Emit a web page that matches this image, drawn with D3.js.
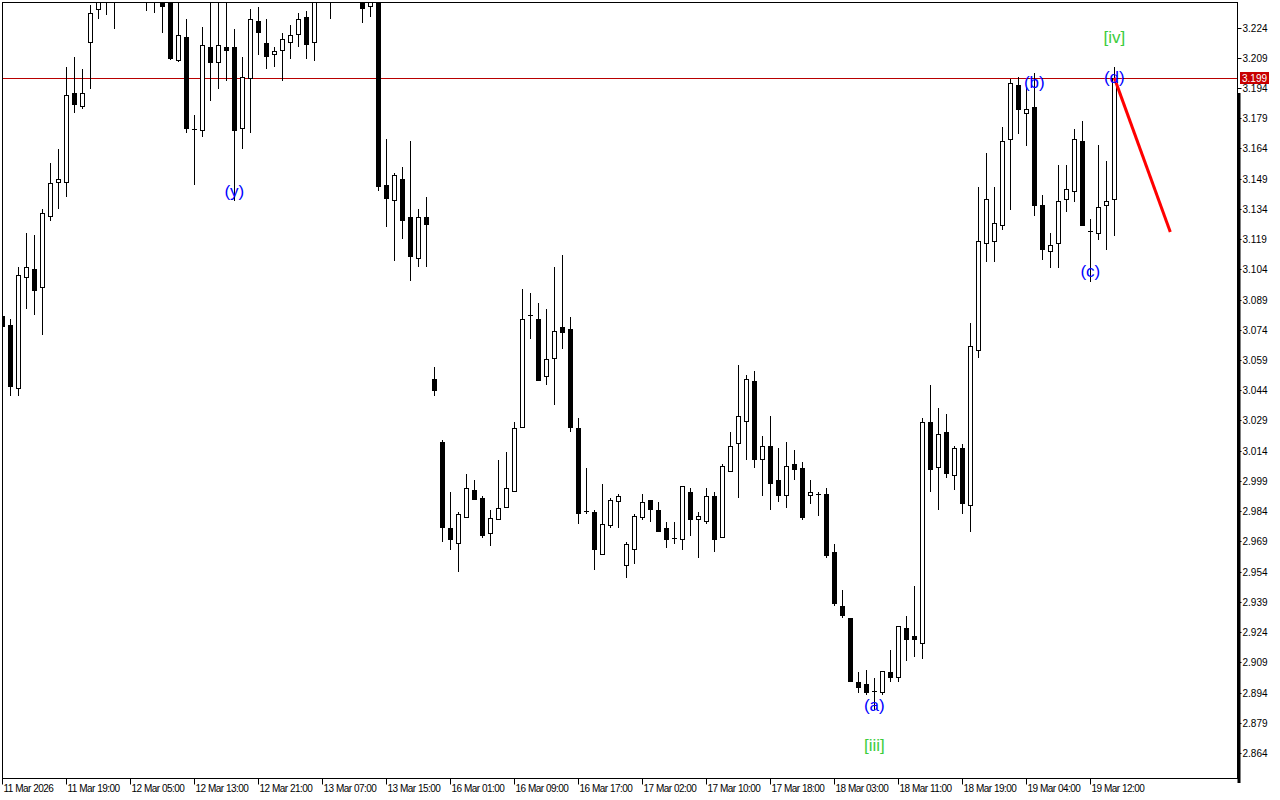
<!DOCTYPE html>
<html lang="en">
<head>
<meta charset="UTF-8">
<title>Candles</title>
<script src="https://cdn.jsdelivr.net/npm/d3@7"></script>
<style>
  body { margin: 0; background: #fff; }
  svg { display: block; }
  .axis text { font: 10px "Liberation Sans", Arial, sans-serif; fill: #000; }
  .axis line { stroke: #000; }
  .xaxis text { letter-spacing: -0.5px; }
  .wave { font: 17px "Liberation Sans", Arial, sans-serif; }
</style>
</head>
<body>
<div id="chart"></div>
<script>
// hourly bars, index 0..139
const opens = [3.081,3.0764,3.0452,3.1002,3.1042,3.0953,3.1305,3.1474,3.1474,3.1915,3.185,3.2168,3.2332,3.240,3.240,3.246,3.249,3.245,3.247,3.243,
  3.246,3.239,3.2079,3.2193,3.1737,3.1732,3.2143,3.2069,3.2143,3.2143,3.1742,3.199,3.2272,3.2163,3.2109,3.2128,3.2168,3.2208,3.2292,3.2168,
  3.240,3.243,3.241,3.245,3.242,3.240,3.2347,3.2395,3.1459,3.1384,3.1489,3.13,3.1097,3.13,3.0497,3.0184,2.9757,2.9683,2.9812,2.9946,
  2.9906,2.9733,2.9802,2.9862,2.9941,3.0259,3.0814,3.0794,3.0511,3.0601,3.0755,3.0745,3.0254,2.9842,2.9837,2.9628,2.9772,2.9891,2.9574,2.9653,
  2.9812,2.9896,2.9846,2.9757,2.9708,2.9703,2.9936,2.9802,2.9792,2.9916,2.9713,3.004,3.0179,3.0288,3.0487,3.0099,3.0164,2.9996,2.9921,3.0075,
  3.0055,2.9921,2.9926,2.9926,2.9638,2.937,2.9311,2.8993,2.8983,2.8949,2.8944,2.9043,2.9018,2.926,2.9221,2.9186,3.0283,3.006,3.0234,3.002,
  3.0154,2.9871,3.064,3.117,3.1181,3.126,3.1687,3.1955,3.1816,3.1846,3.136,3.1131,3.117,3.1389,3.1429,3.1677,3.123,3.1221,3.136,3.1389];
const highs = [3.082,3.0794,3.1052,3.1221,3.1211,3.134,3.1568,3.1637,3.2044,3.2094,3.2034,3.2352,3.244,3.247,3.249,3.252,3.255,3.251,3.250,3.249,
  3.248,3.241,3.240,3.2282,3.1806,3.2242,3.240,3.240,3.240,3.2233,3.2094,3.2332,3.2342,3.2282,3.2143,3.2213,3.2252,3.2312,3.2322,3.243,
  3.246,3.247,3.248,3.250,3.247,3.243,3.242,3.241,3.1687,3.1518,3.1548,3.1677,3.134,3.1399,3.0556,3.0194,2.9936,2.9837,3.0025,2.9996,
  2.9916,2.9847,3.0094,3.0134,3.0284,3.0943,3.0923,3.0873,3.0844,3.1052,3.1111,3.0804,3.0303,3.0055,2.9847,2.9976,2.9906,2.9926,2.9688,2.9827,
  2.9926,2.9896,2.9886,2.9787,2.9787,2.9966,2.9956,2.9837,2.9956,2.9936,3.0075,3.0234,3.0566,3.0516,3.0536,3.0214,3.0313,3.0154,3.0184,3.0144,
  3.0085,2.9996,2.9936,2.9956,2.9678,2.945,2.9311,2.9043,2.9053,2.9013,2.9048,2.9152,2.927,2.9319,2.947,3.0303,3.0467,3.0353,3.0323,3.0164,
  3.0174,3.0774,3.1449,3.1618,3.1449,3.1746,3.1985,3.1994,3.1945,3.2014,3.1409,3.1221,3.1558,3.1558,3.1736,3.1776,3.129,3.1657,3.1578,3.2044];
const lows = [3.074,3.0417,3.0417,3.0849,3.0819,3.072,3.1285,3.1345,3.1404,3.1821,3.184,3.194,3.2287,3.2307,3.2238,3.241,3.243,3.240,3.2327,3.2317,
  3.2218,3.2085,3.2075,3.1722,3.1464,3.1702,3.188,3.194,3.198,3.1384,3.1642,3.1722,3.2109,3.2039,3.2049,3.198,3.2089,3.2148,3.2089,3.2079,
  3.2385,3.2287,3.238,3.239,3.2385,3.2267,3.2297,3.1434,3.1255,3.1086,3.1196,3.0987,3.1057,3.1057,3.0417,2.9693,2.9653,2.9544,2.9812,2.990,
  2.9713,2.9673,2.980,2.986,2.994,3.0259,3.07,3.0491,3.0472,3.0372,3.065,3.0239,2.9782,2.9832,2.9554,2.9628,2.9762,2.9762,2.9514,2.9584,
  2.9802,2.9792,2.9742,2.9663,2.9683,2.9653,2.9723,2.9613,2.9782,2.9643,2.9713,3.004,2.9911,3.0099,3.006,2.9921,2.9852,2.9891,2.9862,3.0001,
  2.9802,2.9881,2.9822,2.9613,2.9375,2.9316,2.8998,2.8944,2.8934,2.8858,2.8934,2.8998,2.8998,2.9102,2.9122,2.9112,2.9941,2.9852,3.001,2.995,
  2.9832,2.974,3.0605,3.1081,3.1081,3.124,3.134,3.1717,3.1657,3.131,3.1091,3.1052,3.1052,3.133,3.1379,3.126,3.0983,3.1191,3.1141,3.1211];
const closes = [3.076,3.0462,3.1012,3.1052,3.0938,3.132,3.1469,3.1489,3.1905,3.186,3.1915,3.2312,3.240,3.244,3.246,3.249,3.245,3.247,3.243,3.246,
  3.2347,3.2089,3.2203,3.1742,3.1737,3.2153,3.2069,3.2153,3.2128,3.1732,3.1994,3.2282,3.2218,3.2099,3.2123,3.2183,3.2203,3.2282,3.2158,3.239,
  3.243,3.241,3.245,3.242,3.240,3.2337,3.2395,3.1454,3.1394,3.1508,3.1285,3.1107,3.13,3.1265,3.0442,2.9762,2.9703,2.9827,2.9956,2.9901,
  2.9723,2.9807,2.9857,2.9956,3.0254,3.0794,3.0814,3.0491,3.0596,3.0735,3.073,3.0259,2.9832,2.9842,2.9653,2.9777,2.9896,2.9916,2.9678,2.9817,
  2.9886,2.9851,2.9742,2.9703,2.9708,2.9966,2.9802,2.9817,2.9916,2.9703,3.0065,3.0164,3.0313,3.0497,3.0099,3.0164,2.9981,2.9921,3.0065,3.005,
  2.9812,2.9936,2.9926,2.9623,2.9385,2.9326,2.8998,2.8968,2.8944,2.8949,2.9048,2.9018,2.927,2.9206,2.9206,3.0283,3.005,3.0224,3.003,3.0154,
  2.9881,3.066,3.118,3.1389,3.127,3.1677,3.1965,3.1836,3.1836,3.136,3.1141,3.1161,3.1379,3.1439,3.1687,3.126,3.123,3.135,3.1379,3.199];

// bottom time labels (every 8 bars)
const timeTickIdx = [0,8,16,24,32,40,48,56,64,72,80,88,96,104,112,120,128,136];
const timeTickText = ["11 Mar 2026","11 Mar 19:00","12 Mar 05:00","12 Mar 13:00","12 Mar 21:00","13 Mar 07:00",
  "13 Mar 15:00","16 Mar 01:00","16 Mar 09:00","16 Mar 17:00","17 Mar 02:00","17 Mar 10:00","17 Mar 18:00",
  "18 Mar 03:00","18 Mar 11:00","18 Mar 19:00","19 Mar 04:00","19 Mar 12:00"];
const priceTicks = d3.range(25).map(k => +(2.864 + k * 0.015).toFixed(3));
const lastPrice = 3.199;

// wave labels
const waveIdx   = [29, 109, 109, 129, 136, 139, 139];
const waveText  = ["(y)", "(a)", "[iii]", "(b)", "(c)", "(d)", "[iv]"];
const wavePrice = [3.1424, 2.8878, 2.8679, 3.1965, 3.1027, 3.1994, 3.2188];
const waveKind  = ["minor", "minor", "major", "minor", "minor", "minor", "major"];

// projection line
const projIdx = [139, 146];
const projPrice = [3.199, 3.1225];

const W = 1280, H = 800;
const plot = { left: 2, top: 2, right: 1237, bottom: 778 };

const svg = d3.select("#chart").append("svg")
  .attr("width", W).attr("height", H);

const x = d3.scaleLinear().domain([0, 139]).range([2.3, 1114.3]);
const y = d3.scaleLinear().domain([2.864, 3.224]).range([753, 27.5]);

svg.append("clipPath").attr("id", "clip")
  .append("rect")
  .attr("x", plot.left).attr("y", plot.top)
  .attr("width", plot.right - plot.left).attr("height", plot.bottom - plot.top);

const g = svg.append("g").attr("clip-path", "url(#clip)");

// current price line
g.append("line")
  .attr("x1", plot.left).attr("x2", plot.right)
  .attr("y1", Math.round(y(lastPrice)) + 0.5).attr("y2", Math.round(y(lastPrice)) + 0.5)
  .attr("stroke", "#b80000").attr("stroke-width", 1);

const bars = d3.range(opens.length).map(i => ({
  i, o: opens[i], h: highs[i], l: lows[i], c: closes[i]
}));

const candle = g.selectAll("g.candle").data(bars).join("g").attr("class", "candle");

candle.append("line")
  .attr("x1", d => Math.round(x(d.i)) + 0.5).attr("x2", d => Math.round(x(d.i)) + 0.5)
  .attr("y1", d => Math.round(y(d.h))).attr("y2", d => Math.round(y(d.l)) + 1)
  .attr("stroke", "#000").attr("stroke-width", 1);

candle.each(function(d) {
  const cx = Math.round(x(d.i));
  const yt = Math.round(y(Math.max(d.o, d.c)));
  const yb = Math.round(y(Math.min(d.o, d.c)));
  const sel = d3.select(this);
  if (yb - yt < 1) {
    sel.append("line")
      .attr("x1", cx - 2).attr("x2", cx + 3)
      .attr("y1", yt + 0.5).attr("y2", yt + 0.5)
      .attr("stroke", "#000");
  } else {
    sel.append("rect")
      .attr("x", cx - 2 + 0.5).attr("y", yt + 0.5)
      .attr("width", 4).attr("height", yb - yt)
      .attr("fill", d.c >= d.o ? "#fff" : "#000")
      .attr("stroke", "#000").attr("stroke-width", 1);
  }
});

// projection
g.append("line")
  .attr("x1", x(projIdx[0])).attr("y1", y(projPrice[0]))
  .attr("x2", x(projIdx[1])).attr("y2", y(projPrice[1]))
  .attr("stroke", "#ff0000").attr("stroke-width", 3);

// wave labels
g.selectAll("text.wave").data(waveIdx).join("text")
  .attr("class", "wave")
  .attr("x", (d, k) => x(d))
  .attr("y", (d, k) => y(wavePrice[k]))
  .attr("text-anchor", "middle")
  .attr("dominant-baseline", "central")
  .attr("fill", (d, k) => waveKind[k] === "major" ? "#3ccc3c" : "#0000ff")
  .text((d, k) => waveText[k]);

// frame
svg.append("rect")
  .attr("x", plot.left + 0.5).attr("y", plot.top + 0.5)
  .attr("width", plot.right - plot.left).attr("height", plot.bottom - plot.top)
  .attr("fill", "none").attr("stroke", "#000");
svg.append("line")
  .attr("x1", plot.right + 2).attr("x2", plot.right + 2)
  .attr("y1", 93).attr("y2", 783)
  .attr("stroke", "#000").attr("stroke-width", 3);

// price axis
const yAxis = svg.append("g").attr("class", "axis")
  .attr("transform", `translate(${plot.right + 0.5},0)`)
  .call(d3.axisRight(y).tickValues(priceTicks).tickFormat(d3.format(".3f")).tickSize(4).tickPadding(1));
yAxis.select(".domain").remove();
yAxis.selectAll(".tick").attr("transform", d => `translate(0,${Math.round(y(d)) + 0.5})`);

// last price tag
const tagY = Math.round(y(lastPrice));
svg.append("rect")
  .attr("x", plot.right + 3).attr("y", tagY - 6)
  .attr("width", 29).attr("height", 12)
  .attr("fill", "#c80000");
svg.append("text")
  .attr("x", plot.right + 5).attr("y", tagY)
  .attr("dominant-baseline", "central")
  .style("font", '10px "Liberation Sans", Arial, sans-serif')
  .attr("fill", "#fff")
  .text(d3.format(".3f")(lastPrice));

// time axis
const xAxis = svg.append("g").attr("class", "axis xaxis")
  .attr("transform", `translate(0,${plot.bottom + 0.5})`)
  .call(d3.axisBottom(x).tickValues(timeTickIdx)
    .tickFormat((d, k) => timeTickText[k]).tickSize(6).tickPadding(0));
xAxis.select(".domain").remove();
xAxis.selectAll(".tick").attr("transform", d => `translate(${Math.round(x(d)) + 0.5},0)`);
xAxis.selectAll(".tick text").attr("text-anchor", "start").attr("x", 1);
</script>
</body>
</html>
